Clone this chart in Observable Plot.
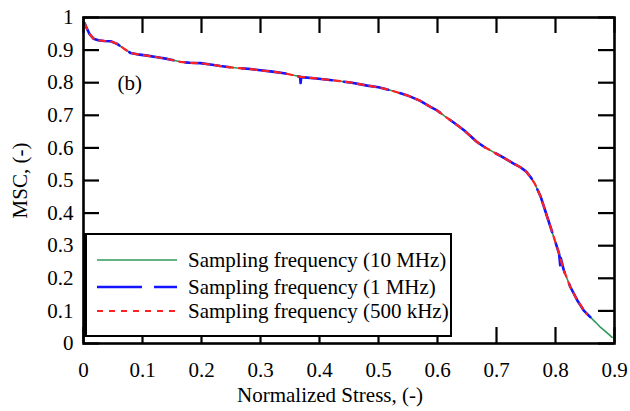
<!DOCTYPE html>
<html>
<head>
<meta charset="utf-8">
<script src="https://cdn.jsdelivr.net/npm/d3@7"></script>
<script src="https://cdn.jsdelivr.net/npm/@observablehq/plot@0.6"></script>
<style>
  html, body { margin: 0; padding: 0; background: #fff; }
  #wrap { position: relative; width: 630px; height: 411px; }
  #legend { position: absolute; left: 84px; top: 233px; }
</style>
</head>
<body>
<div id="wrap"></div>
<script>
// ---- data ----
const stress10MHz = [0.002,0.006,0.010,0.017,0.025,0.035,0.046,0.057,0.068,0.080,0.095,0.108,0.125,0.142,0.164,0.180,0.198,0.215,0.232,0.260,0.283,0.300,0.320,0.340,0.368,0.395,0.424,0.455,0.481,0.500,0.520,0.549,0.570,0.588,0.600,0.611,0.628,0.645,0.667,0.680,0.695,0.712,0.729,0.741,0.750,0.758,0.765,0.775,0.786,0.797,0.806,0.814,0.825,0.837,0.848,0.859,0.868,0.876,0.886,0.896];
const msc10MHz    = [0.982,0.965,0.950,0.935,0.930,0.928,0.927,0.919,0.905,0.891,0.886,0.883,0.878,0.873,0.864,0.861,0.860,0.856,0.851,0.845,0.842,0.838,0.834,0.829,0.818,0.813,0.807,0.800,0.791,0.786,0.777,0.761,0.745,0.726,0.714,0.699,0.677,0.654,0.618,0.602,0.587,0.570,0.552,0.540,0.528,0.510,0.490,0.450,0.388,0.327,0.276,0.225,0.174,0.132,0.101,0.081,0.065,0.050,0.035,0.019];

const stress1MHz = [0.002,0.006,0.010,0.017,0.025,0.035,0.046,0.057,0.068,0.080,0.095,0.108,0.125,0.142,0.164,0.180,0.198,0.215,0.232,0.260,0.283,0.300,0.320,0.340,0.367,0.368,0.369,0.395,0.424,0.455,0.481,0.500,0.520,0.549,0.570,0.588,0.600,0.611,0.628,0.645,0.667,0.680,0.695,0.712,0.729,0.741,0.750,0.758,0.765,0.775,0.786,0.797,0.806,0.808,0.809,0.814,0.825,0.837,0.848,0.859];
const msc1MHz    = [0.982,0.965,0.950,0.935,0.930,0.928,0.927,0.919,0.905,0.891,0.886,0.883,0.878,0.873,0.864,0.861,0.860,0.856,0.851,0.845,0.842,0.838,0.834,0.829,0.818,0.799,0.817,0.813,0.807,0.800,0.791,0.786,0.777,0.761,0.745,0.726,0.714,0.699,0.677,0.654,0.618,0.602,0.587,0.570,0.552,0.540,0.528,0.510,0.490,0.450,0.388,0.327,0.276,0.240,0.262,0.225,0.174,0.132,0.101,0.081];

const stress500kHz = [0.002,0.006,0.010,0.017,0.025,0.035,0.046,0.057,0.068,0.080,0.095,0.108,0.125,0.142,0.164,0.180,0.198,0.215,0.232,0.260,0.283,0.300,0.320,0.340,0.368,0.395,0.424,0.455,0.481,0.500,0.520,0.549,0.570,0.588,0.600,0.611,0.628,0.645,0.667,0.680,0.695,0.712,0.729,0.741,0.750,0.758,0.765,0.775,0.786,0.797,0.806,0.814,0.825,0.837,0.853];
const msc500kHz    = [0.982,0.965,0.950,0.935,0.930,0.928,0.927,0.919,0.905,0.891,0.886,0.883,0.878,0.873,0.864,0.861,0.860,0.856,0.851,0.845,0.842,0.838,0.834,0.829,0.818,0.813,0.807,0.800,0.791,0.786,0.777,0.761,0.745,0.726,0.714,0.699,0.677,0.654,0.618,0.602,0.587,0.570,0.552,0.540,0.528,0.510,0.490,0.450,0.388,0.327,0.276,0.225,0.174,0.132,0.090];

const seriesNames = ["Sampling frequency (10 MHz)", "Sampling frequency (1 MHz)", "Sampling frequency (500 kHz)"];
const xTicks = [0,0.1,0.2,0.3,0.4,0.5,0.6,0.7,0.8,0.9];
const xTickLabels = ["0","0.1","0.2","0.3","0.4","0.5","0.6","0.7","0.8","0.9"];
const yTicks = [0,0.1,0.2,0.3,0.4,0.5,0.6,0.7,0.8,0.9,1];
const yTickLabels = ["0","0.1","0.2","0.3","0.4","0.5","0.6","0.7","0.8","0.9","1"];
const xTitle = "Normalized Stress, (-)";
const yTitle = "MSC, (-)";
const panelLabel = "(b)";

// ---- styles ----
const FONT = "'Liberation Serif', 'Times New Roman', serif";
const GREEN = "#2f9a5c", BLUE = "#1414ff", RED = "#ff2222";
const DASH_BLUE = "45,12", DASH_RED = "6,6";

const toRows = (xs, ys) => xs.map((x, i) => ({x, y: ys[i]}));
const d10 = toRows(stress10MHz, msc10MHz);
const d1 = toRows(stress1MHz, msc1MHz);
const d500 = toRows(stress500kHz, msc500kHz);

const W = 630, H = 411;
const M = {top: 17, right: 16, bottom: 68, left: 83};
const PW = W - M.left - M.right, PH = H - M.top - M.bottom;
const TICK = 16;

const chart = Plot.plot({
  width: W, height: H,
  marginTop: M.top, marginRight: M.right, marginBottom: M.bottom, marginLeft: M.left,
  style: {fontFamily: FONT, fontSize: "21px", color: "#000", background: "#fff"},
  x: {domain: [0, 0.9]},
  y: {domain: [0, 1]},
  marks: [
    Plot.line(d10, {x: "x", y: "y", stroke: GREEN, strokeWidth: 1.6}),
    Plot.line(d1, {x: "x", y: "y", stroke: BLUE, strokeWidth: 2.6, strokeDasharray: DASH_BLUE}),
    Plot.line(d500, {x: "x", y: "y", stroke: RED, strokeWidth: 2.2, strokeDasharray: DASH_RED}),
    // inward ticks on all four sides
    Plot.tickX(xTicks, {x: d => d, insetTop: PH - TICK, stroke: "#000", strokeWidth: 2.2}),
    Plot.tickX(xTicks, {x: d => d, insetBottom: PH - TICK, stroke: "#000", strokeWidth: 2.2}),
    Plot.tickY(yTicks, {y: d => d, insetRight: PW - TICK, stroke: "#000", strokeWidth: 2.2}),
    Plot.tickY(yTicks, {y: d => d, insetLeft: PW - TICK, stroke: "#000", strokeWidth: 2.2}),
    Plot.frame({stroke: "#000", strokeWidth: 2.6}),
    Plot.axisX(xTicks, {anchor: "bottom", tickSize: 0, tickPadding: 19, fontSize: 21,
      tickFormat: (d, i) => xTickLabels[i], label: null}),
    Plot.axisY(yTicks, {anchor: "left", tickSize: 0, tickPadding: 10, fontSize: 21,
      tickFormat: (d, i) => yTickLabels[i], label: yTitle, labelAnchor: "center", labelOffset: 71, labelArrow: "none"}),
    Plot.text([xTitle], {frameAnchor: "bottom", dx: -19, dy: 52, fontSize: 21, lineAnchor: "middle"}),
    Plot.text([panelLabel], {frameAnchor: "top-left", dx: 34, dy: 58, fontSize: 21})
  ]
});

const wrap = document.getElementById("wrap");
wrap.appendChild(chart);

// ---- legend (overlay box in the lower-left of the plot) ----
const LW = 368, LH = 104;
const legend = d3.create("svg").attr("id", "legend").attr("width", LW).attr("height", LH)
  .style("font-family", FONT);
legend.append("rect").attr("x", 1).attr("y", 1).attr("width", LW - 2).attr("height", LH - 2)
  .attr("fill", "#fff").attr("stroke", "#000").attr("stroke-width", 2);
legend.append("line").attr("x1", 1.5).attr("x2", 1.5).attr("y1", 0).attr("y2", LH)
  .attr("stroke", "#000").attr("stroke-width", 3);
const rowY = [27, 54, 78];
const colors = [GREEN, BLUE, RED];
const dashes = [null, DASH_BLUE, DASH_RED];
const widths = [1.6, 2.6, 2.2];
seriesNames.forEach((name, i) => {
  legend.append("line").attr("x1", 13).attr("x2", 93).attr("y1", rowY[i]).attr("y2", rowY[i])
    .attr("stroke", colors[i]).attr("stroke-width", widths[i])
    .attr("stroke-dasharray", dashes[i]);
  legend.append("text").attr("x", 104).attr("y", rowY[i]).attr("dy", "0.32em")
    .attr("font-size", 21).attr("fill", "#000").text(name);
});
wrap.appendChild(legend.node());
</script>
</body>
</html>
